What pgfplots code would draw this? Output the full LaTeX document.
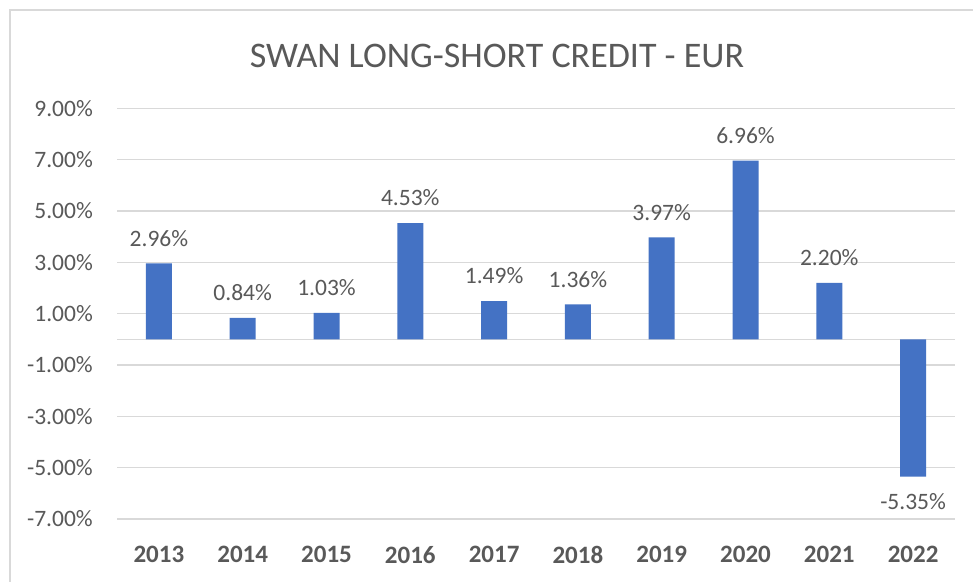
\documentclass[border=0pt]{standalone}
\usepackage{pgfplots}
\pgfplotsset{compat=1.18}
\usepackage{fontspec}
\setmainfont{Carlito}
\definecolor{barblue}{RGB}{68,114,196}
\definecolor{txt}{RGB}{89,89,89}
\definecolor{gridc}{RGB}{217,217,217}
\begin{document}
\begin{tikzpicture}[x=1pt,y=1pt]
\useasboundingbox (0,0) rectangle (973,581);
\fill[white] (0,0) rectangle (973,581);
\draw[gridc, line width=1.5pt] (10,-5) -- (10,571) -- (990,571);
\node[txt, font=\fontsize{36}{40}\selectfont, inner sep=0pt] at (497,525) {SWAN LONG-SHORT CREDIT - EUR};
\begin{axis}[
  at={(117pt,62.1pt)}, anchor=south west,
  scale only axis, width=838pt, height=410.5pt,
  xmin=-0.5, xmax=9.5, ymin=-7, ymax=9,
  enlargelimits=false, clip=false,
  ybar, bar width=26pt,
  axis line style={draw=none},
  major tick length=0pt,
  /pgf/number format/assume math mode=true,
  xtick={0,...,9},
  xticklabels={2013,2014,2015,2016,2017,2018,2019,2020,2021,2022},
  xticklabel style={font=\fontsize{25}{30}\selectfont\bfseries, text=txt, inner sep=0pt, anchor=north},
  xticklabel shift=27pt,
  ytick={-7,-5,...,9},
  yticklabel={\pgfmathprintnumber[fixed,fixed zerofill,precision=2]{\tick}\%},
  yticklabel style={font=\fontsize{23.5}{28}\selectfont, text=txt, inner sep=0pt, anchor=east},
  yticklabel shift=24pt,
  ymajorgrids,
  major grid style={gridc, line width=1.5pt},
  extra y ticks={0}, extra y tick labels={},
  extra y tick style={grid=major, major grid style={gridc, line width=1.5pt}},
  nodes near coords={\pgfmathprintnumber[fixed,fixed zerofill,precision=2]{\pgfplotspointmeta}\%},
  nodes near coords align={vertical},
  every node near coord/.append style={font=\fontsize{23.5}{28}\selectfont, text=txt, inner sep=0pt, outer sep=17pt},
]
\addplot[fill=barblue, draw=none] coordinates {
(0,2.96) (1,0.84) (2,1.03) (3,4.53) (4,1.49) (5,1.36) (6,3.97) (7,6.96) (8,2.20) (9,-5.35)
};
\end{axis}
\end{tikzpicture}
\end{document}
